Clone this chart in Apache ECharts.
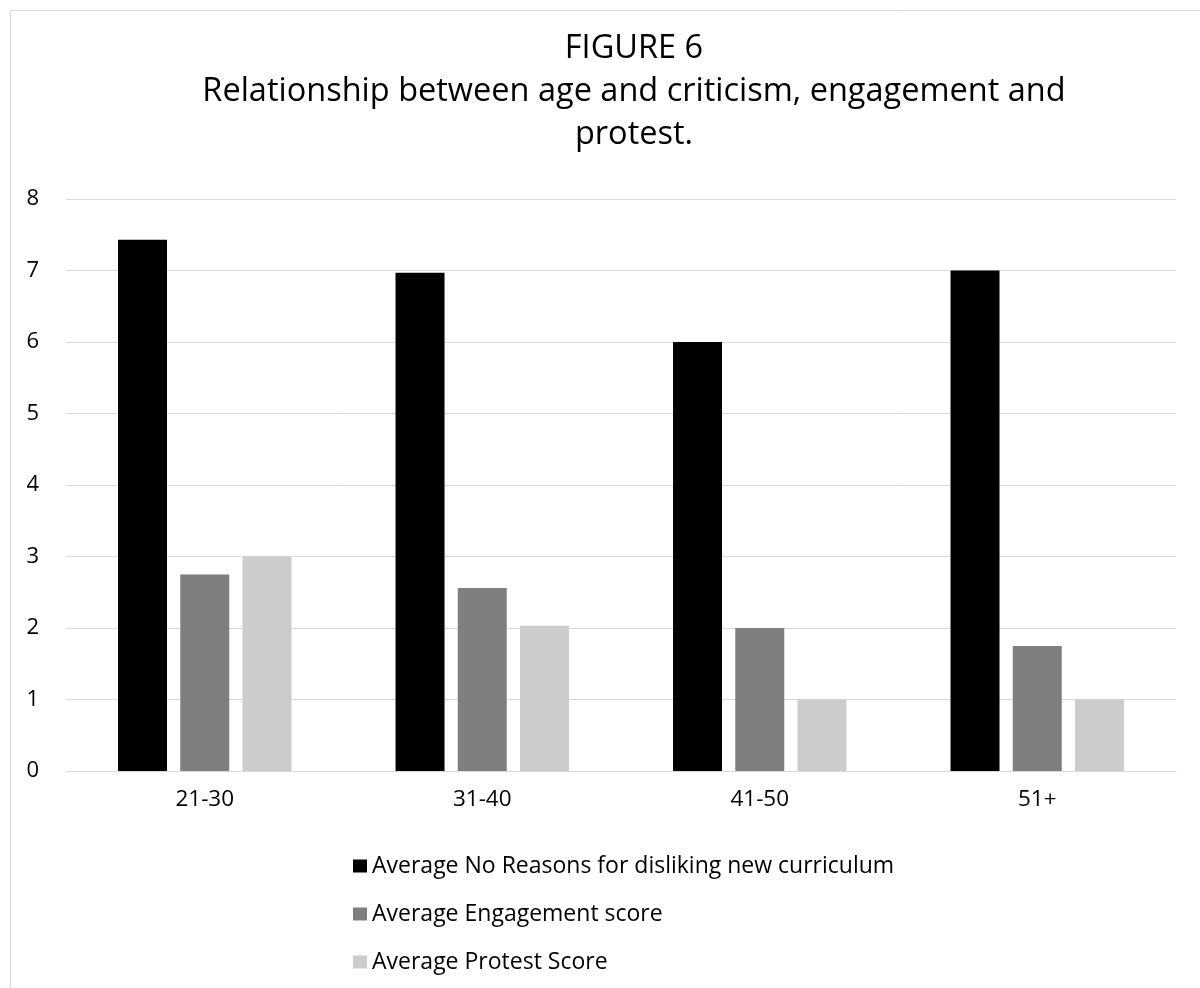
<!DOCTYPE html>
<html><head><meta charset="utf-8">
<script src="https://cdn.jsdelivr.net/npm/echarts@6/dist/echarts.min.js"></script>
<style>html,body{margin:0;padding:0;background:#fff}#c{width:1200px;height:988px}</style>
</head><body><div id="c"></div>
<script>
const categories = ['21-30', '31-40', '41-50', '51+'];
const seriesNames = ['Average No Reasons for disliking new curriculum', 'Average Engagement score', 'Average Protest Score'];
const reasons = [7.43, 6.97, 6.0, 7.0];
const engagement = [2.75, 2.56, 2.0, 1.75];
const protest = [3.0, 2.03, 1.0, 1.0];
const yTicks = [0, 1, 2, 3, 4, 5, 6, 7, 8];
const colors = ['#000000', '#7f7f7f', '#cccccc'];
const FONT = 'Open Sans';

const chart = echarts.init(document.getElementById('c'), null, {renderer: 'canvas'});
chart.setOption({
  animation: false,
  backgroundColor: '#fff',
  color: colors,
  title: {
    text: 'FIGURE 6\nRelationship between age and criticism, engagement and\nprotest.',
    left: 629, top: 22, textAlign: 'center',
    textStyle: {fontFamily: FONT, fontSize: 32.5, fontWeight: 'normal', color: '#000', lineHeight: 43}
  },
  graphic: [{
    type: 'rect', shape: {x: 10.5, y: 10.5, width: 1250, height: 1000},
    style: {fill: 'none', stroke: '#d9d9d9', lineWidth: 1}, silent: true, z: -10
  }],
  legend: {
    orient: 'vertical', left: 348, top: 847, itemWidth: 14, itemHeight: 13, itemGap: 20,
    icon: 'rect',
    textStyle: {fontFamily: FONT, fontSize: 23, color: '#000', padding: [0, 0, 0, 0], lineHeight: 28},
    data: seriesNames
  },
  grid: {left: 66, right: 24, top: 199, bottom: 217, containLabel: false},
  xAxis: {
    type: 'category', data: categories,
    axisLine: {lineStyle: {color: '#d9d9d9', width: 1}},
    axisTick: {show: false},
    axisLabel: {fontFamily: FONT, fontSize: 22.5, color: '#000', margin: 17}
  },
  yAxis: {
    type: 'value', min: yTicks[0], max: yTicks[yTicks.length - 1], interval: 1,
    axisLine: {show: false}, axisTick: {show: false},
    splitLine: {lineStyle: {color: '#d9d9d9', width: 1}},
    axisLabel: {fontFamily: FONT, fontSize: 22, color: '#000', margin: 27}
  },
  series: [
    {name: seriesNames[0], type: 'bar', data: reasons, barWidth: 49, barGap: '27%'},
    {name: seriesNames[1], type: 'bar', data: engagement, barWidth: 49, barGap: '27%'},
    {name: seriesNames[2], type: 'bar', data: protest, barWidth: 49, barGap: '27%'}
  ]
});
</script></body></html>
